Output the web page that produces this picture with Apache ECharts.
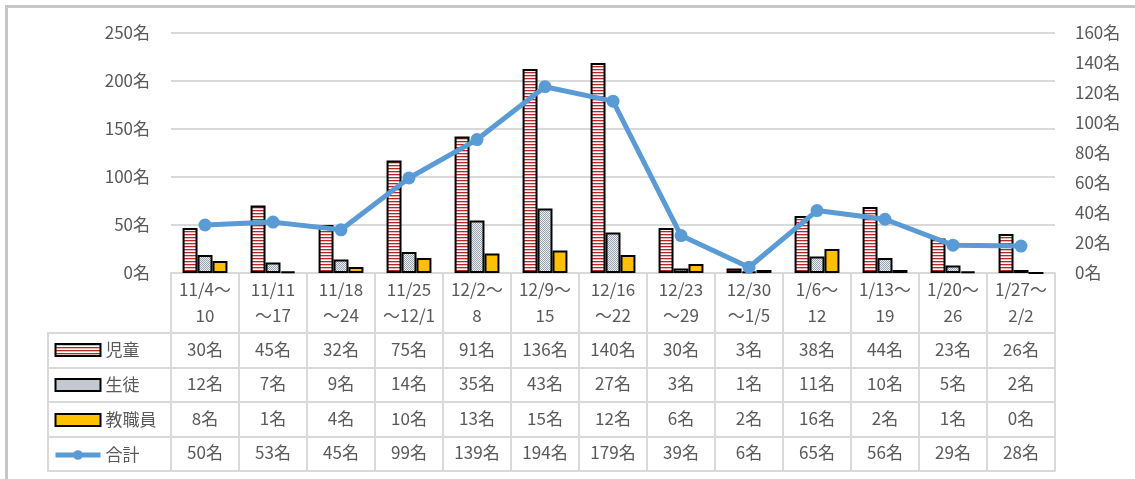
<!DOCTYPE html>
<html>
<head>
<meta charset="utf-8">
<script src="https://cdn.jsdelivr.net/npm/echarts@6/dist/echarts.min.js"></script>
<style>
html,body{margin:0;padding:0;background:#fff;}
#chart{position:absolute;left:0;top:0;width:1135px;height:479px;}
#frame{position:absolute;left:5px;top:5px;width:1135px;height:479px;border-left:3px solid #c6c6c6;border-top:3px solid #c6c6c6;pointer-events:none;}
</style>
</head>
<body>
<div id="chart"></div>
<div id="frame"></div>
<script>
var categories = ["11/4〜\n10","11/11\n〜17","11/18\n〜24","11/25\n〜12/1","12/2〜\n8","12/9〜\n15","12/16\n〜22","12/23\n〜29","12/30\n〜1/5","1/6〜\n12","1/13〜\n19","1/20〜\n26","1/27〜\n2/2"];
var seriesNames = ["児童","生徒","教職員","合計"];
var jidou = [30,45,32,75,91,136,140,30,3,38,44,23,26];
var seito = [12,7,9,14,35,43,27,3,1,11,10,5,2];
var kyoshoku = [8,1,4,10,13,15,12,6,2,16,2,1,0];
var goukei = [50,53,45,99,139,194,179,39,6,65,56,29,28];
var leftTicks = {min:0, max:250, interval:50};
var rightTicks = {min:0, max:160, interval:20};

function makePattern(w, h, draw){
  var c = document.createElement('canvas');
  c.width = w; c.height = h;
  var ctx = c.getContext('2d');
  draw(ctx);
  return {image: c, repeat: 'repeat'};
}
var stripe = makePattern(4, 3, function(ctx){
  ctx.fillStyle = '#ffffff'; ctx.fillRect(0,0,4,3);
  ctx.fillStyle = '#b02a2a'; ctx.fillRect(0,0,4,1);
  ctx.fillStyle = '#e9b8b8'; ctx.fillRect(0,1,4,1);
});
var dots = makePattern(2, 2, function(ctx){
  ctx.fillStyle = '#eef1f4'; ctx.fillRect(0,0,2,2);
  ctx.fillStyle = '#98a2ae'; ctx.fillRect(0,0,1,1); ctx.fillRect(1,1,1,1);
});

var FONT = '"Noto Sans CJK JP", "Noto Sans", sans-serif';
var TXT = '#595959';
var GRIDC = '#d9d9d9';
var rowOffsets = [77, 111, 146, 180];
var rowData = [jidou, seito, kyoshoku, goukei];

var xAxes = [{
  type: 'category', gridIndex: 0, data: categories, position: 'bottom',
  axisLine: {show: true, lineStyle: {color: GRIDC, width: 2}},
  axisTick: {show: true, interval: 0, length: 198, lineStyle: {color: GRIDC, width: 2}},
  axisLabel: {interval: 0, margin: 4, fontSize: 17, lineHeight: 26, color: TXT, fontFamily: FONT}
}];
rowData.forEach(function(arr, k){
  xAxes.push({
    type: 'category', gridIndex: 0, data: categories, position: 'bottom', offset: rowOffsets[k],
    axisLine: {show: false}, axisTick: {show: false},
    axisLabel: {interval: 0, margin: 0, verticalAlign: 'middle', fontSize: 17, color: TXT, fontFamily: FONT,
      formatter: function(v, i){ return arr[i] + '名'; }}
  });
});
xAxes.push({type: 'value', gridIndex: 1, position: 'top', min: 0, max: 1,
  axisLine: {show: true, lineStyle: {color: GRIDC, width: 2}}, axisTick: {show: false}, axisLabel: {show: false}, splitLine: {show: false}});
xAxes.push({type: 'value', gridIndex: 1, position: 'bottom', min: 0, max: 1,
  axisLine: {show: true, lineStyle: {color: GRIDC, width: 2}}, axisTick: {show: false}, axisLabel: {show: false}, splitLine: {show: false}});

var barBase = {type: 'bar', xAxisIndex: 0, yAxisIndex: 1, barGap: '0%', barCategoryGap: '34%'};
var legendBarStyle = {borderColor: '#000', borderWidth: 2};

var option = {
  animation: false,
  textStyle: {fontFamily: FONT},
  grid: [
    {left: 171, right: 80, top: 33, height: 240},
    {left: 48, right: 80, top: 333, height: 138}
  ],
  legend: {
    orient: 'vertical', left: 53, top: 340, padding: 0, itemGap: 15,
    itemWidth: 45, itemHeight: 12, selectedMode: false,
    textStyle: {fontSize: 17, lineHeight: 20, color: TXT, fontFamily: FONT},
    data: [
      {name: seriesNames[0], icon: 'rect', itemStyle: legendBarStyle},
      {name: seriesNames[1], icon: 'rect', itemStyle: legendBarStyle},
      {name: seriesNames[2], icon: 'rect', itemStyle: legendBarStyle},
      {name: seriesNames[3], lineStyle: {width: 5, color: '#5b9bd5'}, itemStyle: {color: '#5b9bd5'}}
    ]
  },
  xAxis: xAxes,
  yAxis: [
    {type: 'value', gridIndex: 0, position: 'left', min: leftTicks.min, max: leftTicks.max, interval: leftTicks.interval,
      axisLine: {show: false}, axisTick: {show: false},
      axisLabel: {margin: 21, fontSize: 17, color: TXT, fontFamily: FONT, formatter: '{value}名'},
      splitLine: {show: true, lineStyle: {color: GRIDC, width: 2}}},
    {type: 'value', gridIndex: 0, position: 'right', min: rightTicks.min, max: rightTicks.max, interval: rightTicks.interval,
      axisLine: {show: false}, axisTick: {show: false},
      axisLabel: {margin: 20, fontSize: 17, color: TXT, fontFamily: FONT, formatter: '{value}名'},
      splitLine: {show: false}},
    {type: 'category', gridIndex: 1, inverse: true, data: seriesNames,
      axisLine: {show: true, lineStyle: {color: GRIDC, width: 2}}, axisTick: {show: false}, axisLabel: {show: false},
      splitLine: {show: true, interval: 0, lineStyle: {color: GRIDC, width: 2}}}
  ],
  series: [
    Object.assign({}, barBase, {name: seriesNames[0], data: jidou,
      itemStyle: {color: stripe, borderColor: '#000', borderWidth: 2}}),
    Object.assign({}, barBase, {name: seriesNames[1], data: seito,
      itemStyle: {color: dots, borderColor: '#000', borderWidth: 2}}),
    Object.assign({}, barBase, {name: seriesNames[2], data: kyoshoku,
      itemStyle: {color: '#ffc000', borderColor: '#000', borderWidth: 2}}),
    {type: 'line', name: seriesNames[3], xAxisIndex: 0, yAxisIndex: 0, data: goukei, z: 5,
      symbol: 'circle', symbolSize: 13,
      lineStyle: {color: '#5b9bd5', width: 5}, itemStyle: {color: '#5b9bd5'}}
  ]
};
var chart = echarts.init(document.getElementById('chart'), null, {renderer: 'canvas'});
chart.setOption(option);
</script>
</body>
</html>
